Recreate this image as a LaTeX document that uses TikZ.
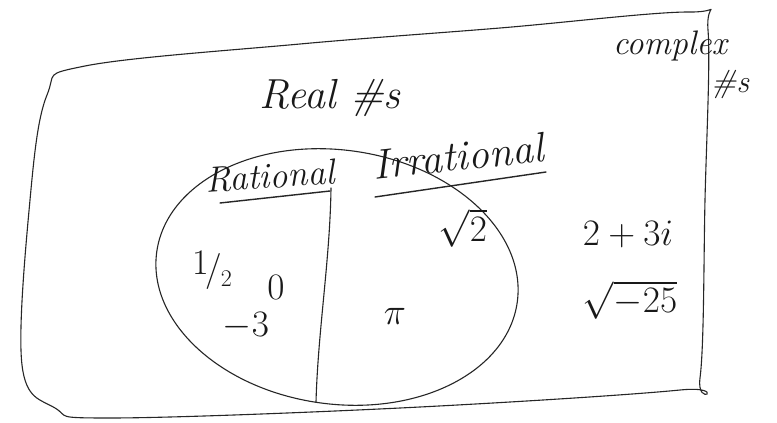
\documentclass[tikz,border=0pt]{standalone}
\usepackage{graphicx}
\usetikzlibrary{calc}
\newcommand{\nbx}[1]{\scalebox{1.5}{\fontsize{24}{26}\selectfont #1}}
\begin{document}
\begin{tikzpicture}[x=1pt,y=-1pt,
  stroke/.style={draw=black!85,line width=1.1pt,line cap=round,line join=round},
  hand/.style={text=black!90,inner sep=1pt,font=\itshape\fontsize{34}{36}\selectfont},
  num/.style={text=black!90,inner sep=1pt}]
\useasboundingbox (0,0) rectangle (777,423);
\fill[white] (0,0) rectangle (777,423);
% outer region (complex numbers)
\draw[stroke] plot[smooth cycle,tension=0.6] coordinates {
  (85,66) (300,44) (500,28) (690,12) (708,30) (705,200) (700,378) (680,390)
  (400,408) (110,418) (55,408) (22,365) (30,200) (47,95)};
% ellipse (real numbers)
\draw[stroke] (337,277) ellipse[x radius=182,y radius=127,rotate=-8];
% divider
\coordinate (dtop) at (331,188);
\coordinate (dbot) at (316,402);
\draw[stroke] (dtop) .. controls (330,260) and (318,330) .. (dbot);
% labels
\node[hand,font=\itshape\fontsize{42}{44}\selectfont] (real) at (330,98) {Real \#s};
\node[hand,font=\itshape\fontsize{34}{36}\selectfont] (complex) at (670,46) {complex};
\node[hand,font=\itshape\fontsize{32}{34}\selectfont] (cs) at (730,84) {\#s};
\node[hand,font=\itshape\fontsize{36}{38}\selectfont,rotate=4] (rat) at (270,176) {Rational};
\node[hand,font=\itshape\fontsize{42}{44}\selectfont,rotate=6] (irr) at (458,156) {Irrational};
\coordinate (ru1) at (220,203); \coordinate (ru2) at (330,191);
\coordinate (iu1) at (375,197); \coordinate (iu2) at (546,172);
\draw[stroke,line width=1.4pt] (ru1) -- (ru2);
\draw[stroke,line width=1.4pt] (iu1) -- (iu2);
% numbers
\node[num] (half) at (212,270) {\nbx{\raisebox{4pt}{1}\kern-2pt/\kern-1pt\raisebox{-4pt}{\fontsize{16}{16}\selectfont 2}}};
\node[num] (zero) at (276,287) {\nbx{$0$}};
\node[num] (neg3) at (246,326) {\nbx{$-3$}};
\node[num] (sqrt2) at (463,228) {\nbx{$\sqrt{2}$}};
\node[num] (pi) at (395,316) {\nbx{$\pi$}};
\node[num] (cplx) at (628,234) {\nbx{$2+3i$}};
\node[num] (sqrtneg) at (630,300) {\nbx{$\sqrt{-25}$}};
\end{tikzpicture}
\end{document}
